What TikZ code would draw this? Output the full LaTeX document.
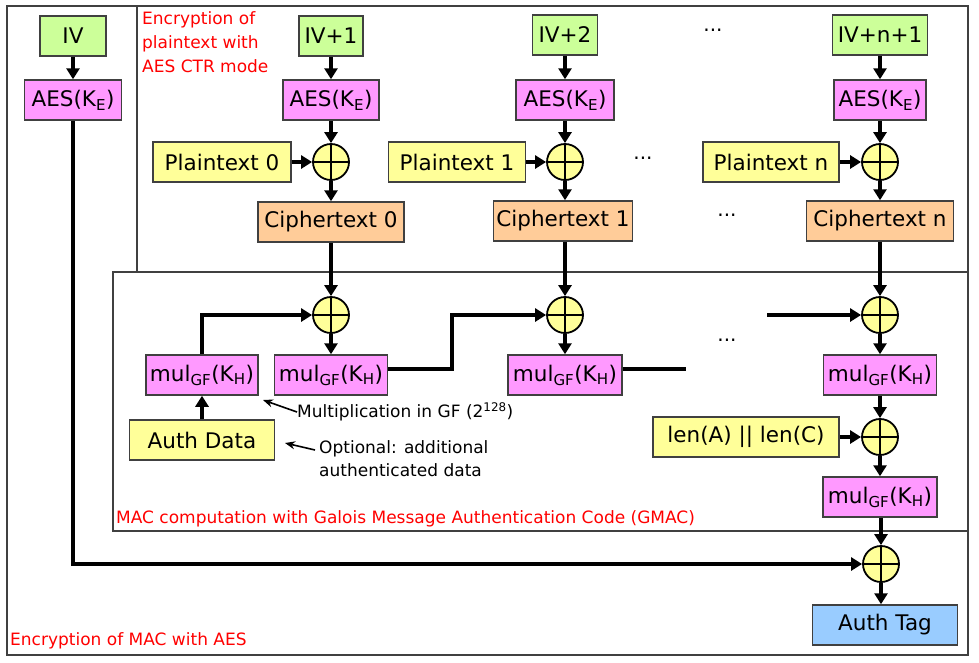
\documentclass[tikz,border=0pt]{standalone}
\usepackage{fontspec}
\setmainfont{DejaVu Sans}
\usetikzlibrary{arrows.meta}
\definecolor{cgreen}{RGB}{204,255,153}
\definecolor{cpink}{RGB}{255,153,255}
\definecolor{cyel}{RGB}{255,255,153}
\definecolor{cpeach}{RGB}{255,204,153}
\definecolor{cblue}{RGB}{153,204,255}
\definecolor{cred}{RGB}{255,0,0}
\definecolor{cframe}{RGB}{64,64,64}
\tikzset{
  bx/.style={draw=cframe, line width=1.5pt, minimum height=40pt, inner xsep=3pt, inner ysep=0pt,
    font=\fontsize{21.5}{24}\selectfont},
  gbox/.style={bx, fill=cgreen},
  pbox/.style={bx, fill=cpink},
  ybox/.style={bx, fill=cyel},
  obox/.style={bx, fill=cpeach},
  bbox/.style={bx, fill=cblue},
  xor/.style={circle, draw=black, fill=cyel, line width=1.8pt, minimum size=36pt, inner sep=0pt,
    path picture={\draw[line width=1.6pt] (path picture bounding box.north) -- (path picture bounding box.south)
      (path picture bounding box.west) -- (path picture bounding box.east);}},
  arr/.style={line width=3.8pt, -{Triangle[length=11pt,width=13pt]}},
  plain/.style={line width=3.8pt},
  tarr/.style={line width=1.6pt, -{Stealth[length=10pt,width=8pt]}},
  frm/.style={draw=cframe, line width=1.4pt},
  redlbl/.style={text=cred, font=\fontsize{17}{24}\selectfont, inner sep=0pt, align=left},
  anno/.style={font=\fontsize{17}{23}\selectfont, inner sep=0pt, align=left},
  dotsl/.style={font=\fontsize{20}{24}\selectfont, inner sep=0pt}
}
\newcommand{\aesk}{AES(K\textsubscript{E})}
\newcommand{\mulgf}{mul\textsubscript{GF}(K\textsubscript{H})}
\begin{document}
\begin{tikzpicture}[x=1pt,y=-1pt]
\useasboundingbox (0,0) rectangle (979,662);
\fill[white] (0,0) rectangle (979,662);
% frames
\draw[frm] (7,6) rectangle (968,655);
\draw[frm] (137,6) rectangle (968,272);
\draw[frm] (113,272) rectangle (968,531);

% red labels
\node[redlbl, anchor=north west] (lblctr) at (142,11) {Encryption of\\plaintext with\\AES CTR mode};
\node[redlbl, anchor=west] (lblgmac) at (116,519) {MAC computation with Galois Message Authentication Code (GMAC)};
\node[redlbl, anchor=west] (lblmac) at (10,641) {Encryption of MAC with AES};

% left column
\node[gbox, minimum width=66pt] (iv) at (73,36) {IV};
\node[pbox, minimum width=97pt] (aesL) at (73,100) {\aesk};

% column 1
\node[gbox, minimum width=64pt] (iv1) at (331,36) {IV+1};
\node[pbox, minimum width=96pt] (aes1) at (331,100) {\aesk};
\node[xor] (x1) at (331,162) {};
\node[ybox, minimum width=138pt] (pt0) at (222,162) {Plaintext 0};
\node[obox, minimum width=146pt] (ct0) at (331,222) {Ciphertext 0};

% column 2
\node[gbox, minimum width=65pt] (iv2) at (565,35) {IV+2};
\node[pbox, minimum width=98pt] (aes2) at (565,100) {\aesk};
\node[xor] (x2) at (565,162) {};
\node[ybox, minimum width=137pt] (pt1) at (457,162) {Plaintext 1};
\node[obox, minimum width=139pt] (ct1) at (563,221) {Ciphertext 1};

% column n
\node[gbox, minimum width=95pt] (ivn) at (880,35) {IV+n+1};
\node[pbox, minimum width=92pt] (aesn) at (880,100) {\aesk};
\node[xor] (xn) at (880,162) {};
\node[ybox, minimum width=136pt] (ptn) at (771,162) {Plaintext n};
\node[obox, minimum width=147pt] (ctn) at (880,221) {Ciphertext n};

% dots
\node[dotsl] (d1) at (713,30) {...};
\node[dotsl] (d2) at (643,158) {...};
\node[dotsl] (d3) at (727,215) {...};
\node[dotsl] (d4) at (727,340) {...};

% GMAC
\node[xor] (g0) at (331,315) {};
\node[xor] (g1) at (565,315) {};
\node[xor] (gn) at (880,315) {};
\node[pbox, minimum width=112pt] (mulA) at (202,375) {\mulgf};
\node[pbox, minimum width=113pt] (mul0) at (331,375) {\mulgf};
\node[pbox, minimum width=114pt] (mul1) at (565,375) {\mulgf};
\node[pbox, minimum width=113pt] (muln) at (880,375) {\mulgf};
\node[ybox, minimum width=145pt] (ad) at (202,440) {Auth Data};
\node[xor] (xl) at (880,437) {};
\node[ybox, minimum width=186pt] (len) at (746,437) {len(A) || len(C)};
\node[pbox, minimum width=114pt] (mulF) at (880,497) {\mulgf};
\node[xor] (xf) at (881,564) {};
\node[bbox, minimum width=145pt] (tag) at (885,625) {Auth Tag};

% annotations
\node[anno, anchor=west] (mult) at (297,412) {Multiplication in GF (2\textsuperscript{128})};
\node[anno, anchor=north west] (opt) at (319,440) {Optional: additional\\authenticated data};
\coordinate (tipA) at (263,400);
\coordinate (optfrom) at (315,450);
\coordinate (tipB) at (285,443);
\draw[tarr] (mult.west) -- (tipA);
\draw[tarr] (optfrom) -- (tipB);

% CTR connectors
\draw[arr] (iv) -- (aesL);
\foreach \c in {1,2,n}{
  \draw[arr] (iv\c) -- (aes\c);
  \draw[arr] (aes\c) -- (x\c);
}
\draw[arr] (pt0) -- (x1);
\draw[arr] (pt1) -- (x2);
\draw[arr] (ptn) -- (xn);
\draw[arr] (x1) -- (ct0);
\draw[arr] (x2) -- (x2 |- ct1.north);
\draw[arr] (xn) -- (ctn);

% into GMAC
\draw[arr] (ct0) -- (g0);
\draw[arr] (ct1.south -| g1) -- (g1);
\draw[arr] (ctn) -- (gn);

% GMAC chain
\draw[arr] (ad) -- (mulA);
\draw[arr] (mulA.north) |- (g0.west);
\draw[arr] (g0) -- (mul0);
\coordinate (bend1) at (452,369);
\draw[arr] ([yshift=6pt]mul0.east) -- (bend1) |- (g1.west);
\draw[arr] (g1) -- (mul1);
\coordinate (m1end) at (686,369);
\draw[plain] ([yshift=6pt]mul1.east) -- (m1end);
\coordinate (gnstart) at (767,315);
\draw[arr] (gnstart) -- (gn.west);
\draw[arr] (gn) -- (muln);
\draw[arr] (muln) -- (xl);
\draw[arr] (len) -- (xl);
\draw[arr] (xl) -- (mulF);
\draw[arr] (mulF.south -| xf) -- (xf);
\draw[arr] (xf) -- (xf |- tag.north);

% AES of IV to final XOR
\draw[arr] (aesL.south) |- (xf.west);
\end{tikzpicture}
\end{document}
